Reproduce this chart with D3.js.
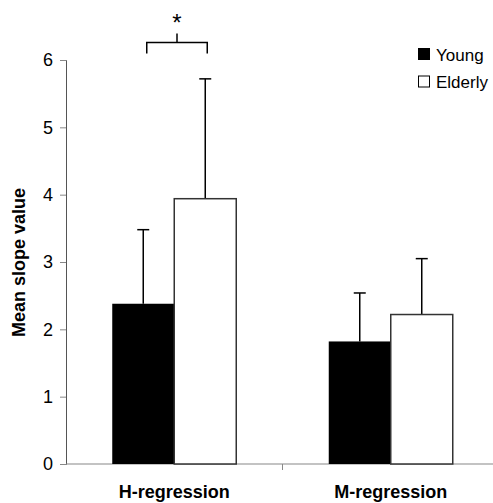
<!DOCTYPE html>
<html>
<head>
<meta charset="utf-8">
<script src="https://cdn.jsdelivr.net/npm/d3@7"></script>
<style>
  body { margin: 0; background: #fff; }
  svg { display: block; font-family: "Liberation Sans", Arial, sans-serif; }
</style>
</head>
<body>
<svg width="493" height="503"></svg>
<script>
// data
const categories = ["H-regression", "M-regression"];
const groups = ["Young", "Elderly"];
const youngMean = [2.38, 1.82];
const youngSD = [1.10, 0.72];
const elderlyMean = [3.94, 2.22];
const elderlySD = [1.78, 0.83];
const yTicks = [0, 1, 2, 3, 4, 5, 6];

let svg = d3.select("svg");
let mLeft = 66, mRight = 499, mTop = 60, mBottom = 464;

let x = d3.scaleBand().domain(categories).range([mLeft, mRight]).paddingInner(0).paddingOuter(0);
let xg = d3.scaleBand().domain(groups).range([0, 124]);
let y = d3.scaleLinear().domain([0, 6]).range([mBottom, mTop]);

let rows = [];
categories.forEach(function(c, i) {
  rows.push({cat: c, grp: "Young", v: youngMean[i], e: youngSD[i]});
  rows.push({cat: c, grp: "Elderly", v: elderlyMean[i], e: elderlySD[i]});
});
function bx(d) { return x(d.cat) + (x.bandwidth() - 124) / 2 + xg(d.grp); }

// y axis
let yAxis = svg.append("g").attr("transform", "translate(" + mLeft + ",0)")
  .call(d3.axisLeft(y).tickValues(yTicks).tickSize(6).tickPadding(7).tickFormat(d3.format("d")));
yAxis.select(".domain").attr("stroke", "#555");
yAxis.selectAll(".tick line").attr("stroke", "#888");
yAxis.selectAll(".tick text").attr("font-size", 18).attr("fill", "#000")
  .attr("font-family", "Liberation Sans, Arial, sans-serif");

// x axis
let xAxis = svg.append("g").attr("transform", "translate(0," + mBottom + ")");
xAxis.append("line").attr("x1", mLeft).attr("x2", mRight).attr("stroke", "#888").attr("stroke-width", 1.2);
xAxis.append("line").attr("x1", x(categories[1])).attr("x2", x(categories[1]))
  .attr("y1", 0).attr("y2", 6).attr("stroke", "#888");
xAxis.selectAll("text.cat").data(categories).enter().append("text")
  .attr("class", "cat")
  .attr("x", function(d) { return x(d) + x.bandwidth() / 2; })
  .attr("y", 34).attr("text-anchor", "middle")
  .attr("font-size", 18).attr("font-weight", "bold")
  .text(function(d) { return d; });

// error bars
let eb = svg.append("g").attr("stroke", "#000").attr("stroke-width", 1.5);
rows.forEach(function(d) {
  let cx = bx(d) + xg.bandwidth() / 2;
  eb.append("line").attr("x1", cx).attr("x2", cx).attr("y1", y(d.v)).attr("y2", y(d.v + d.e));
  eb.append("line").attr("x1", cx - 6).attr("x2", cx + 6).attr("y1", y(d.v + d.e)).attr("y2", y(d.v + d.e));
});

// bars
svg.append("g").selectAll("rect").data(rows).enter().append("rect")
  .attr("x", bx)
  .attr("y", function(d) { return y(d.v); })
  .attr("width", xg.bandwidth())
  .attr("height", function(d) { return y(0) - y(d.v); })
  .attr("fill", function(d) { return d.grp === "Young" ? "#000" : "#fff"; })
  .attr("stroke", function(d) { return d.grp === "Young" ? "none" : "#333"; })
  .attr("stroke-width", 1.5);

// significance bracket
let b1 = bx(rows[0]) + xg.bandwidth() / 2 + 3.5, b2 = bx(rows[1]) + xg.bandwidth() / 2 + 2;
let by = 42.5;
svg.append("path")
  .attr("d", "M" + b1 + "," + (by + 11) + "V" + by + "H" + b2 + "V" + (by + 11)
    + "M" + ((b1 + b2) / 2) + "," + by + "V" + (by - 9))
  .attr("fill", "none").attr("stroke", "#000").attr("stroke-width", 1.5);
svg.append("text").attr("x", (b1 + b2) / 2).attr("y", 31).attr("text-anchor", "middle")
  .attr("font-size", 24).text("*");

// y title
svg.append("text").attr("transform", "translate(24.5," + ((mTop + mBottom) / 2 + 0.5) + ") rotate(-90)")
  .attr("text-anchor", "middle").attr("font-size", 18).attr("font-weight", "bold")
  .text("Mean slope value");

// legend
let lg = svg.append("g").attr("transform", "translate(418,48)");
groups.forEach(function(g, i) {
  lg.append("rect").attr("x", 0.5).attr("y", i * 27.5 + 0.5).attr("width", 11).attr("height", 11)
    .attr("fill", g === "Young" ? "#000" : "#fff").attr("stroke", "#000").attr("stroke-width", 1);
  lg.append("text").attr("x", 18).attr("y", i * 27.5 + 12.5).attr("font-size", 17).text(g);
});
</script>
</body>
</html>
